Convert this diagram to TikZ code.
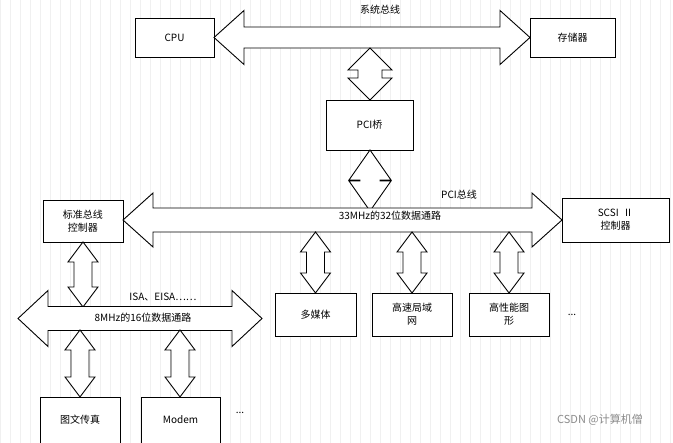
\documentclass[tikz,border=0pt]{standalone}
\usepackage{fontspec}
\setmainfont{Noto Sans CJK SC}
\begin{document}
\begin{tikzpicture}[x=1pt,y=-1pt,
  box/.style={draw,line width=0.9pt,fill=white,inner sep=1pt,align=center,font=\fontsize{10}{13}\selectfont},
  arr/.style={draw,line width=0.9pt,fill=white,line join=miter},
  lbl/.style={font=\fontsize{10}{12}\selectfont,inner sep=0pt}]
\newcommand\hdarrow[6]{% x1 x2 yc bodyhalf headhalf headlen
  \path[arr] (#1,#3) -- (#1+#6,#3-#5) -- (#1+#6,#3-#4) -- (#2-#6,#3-#4) -- (#2-#6,#3-#5) -- (#2,#3)
   -- (#2-#6,#3+#5) -- (#2-#6,#3+#4) -- (#1+#6,#3+#4) -- (#1+#6,#3+#5) -- cycle;}
\newcommand\vdarrow[6]{% y1 y2 xc bodyhalf headhalf headlen
  \path[arr] (#3,#1) -- (#3+#5,#1+#6) -- (#3+#4,#1+#6) -- (#3+#4,#2-#6) -- (#3+#5,#2-#6) -- (#3,#2)
   -- (#3-#5,#2-#6) -- (#3-#4,#2-#6) -- (#3-#4,#1+#6) -- (#3-#5,#1+#6) -- cycle;}
\useasboundingbox (0,0) rectangle (673,443);
\fill[white] (0,0) rectangle (673,443);
\draw[black!6,line width=0.4pt] (0,0) grid[step=10] (673,443);
% nodes
\node[box,minimum width=79,minimum height=39] (cpu) at (174.5,37.5) {CPU};
\node[box,minimum width=85,minimum height=39] (mem) at (572.5,37.5) {存储器};
\node[box,minimum width=87,minimum height=50] (pci) at (369.5,125) {PCI桥};
\node[box,minimum width=80,minimum height=42] (std) at (83,221) {标准总线\\控制器};
\node[box,minimum width=107,minimum height=44] (scsi) at (615.5,220) {SCSI\ \ Ⅱ\\控制器};
\node[box,minimum width=81,minimum height=43] (mm) at (315.5,314.5) {多媒体};
\node[box,minimum width=80,minimum height=43,text width=70] (lan) at (412,314.5) {高速局域\\网};
\node[box,minimum width=80,minimum height=43,text width=70] (gfx) at (509,314.5) {高性能图\\形};
\node[box,minimum width=80,minimum height=46] (fax) at (80,420) {图文传真};
\node[box,minimum width=79,minimum height=46] (modem) at (180.5,420) {Modem};
% system bus
\hdarrow{214}{530}{37.5}{10.5}{27}{30}
\node[lbl] (sysl) at (380,10) {系统总线};
\vdarrow{48}{100}{370}{12}{22}{22}
% pci bus
\vdarrow{150}{211}{370}{10}{21}{30}
\hdarrow{123}{562}{220}{12}{27}{30}
\node[lbl] (pcil) at (459,195) {PCI总线};
\node[lbl] (pcis) at (390,216) {33MHz的32位数据通路};
\vdarrow{232}{293}{315.5}{9}{15}{20}
\vdarrow{232}{293}{412}{9}{15}{20}
\vdarrow{232}{293}{509}{9}{15}{20}
\node[lbl] (d1) at (572,315) {...};
% isa bus
\vdarrow{242}{307}{83}{9}{15}{20}
\hdarrow{18}{262}{318.5}{12}{28}{30}
\node[lbl] (isal) at (163,297) {ISA、EISA……};
\node[lbl] (isas) at (143,318) {8MHz的16位数据通路};
\vdarrow{330}{397}{80}{9}{15}{20}
\vdarrow{330}{397}{180}{9}{15}{20}
\node[lbl] (d2) at (240,413) {...};
\node[lbl,text=black!45,font=\fontsize{11}{12}\selectfont] (wm) at (600,420) {CSDN @计算机僧};
\end{tikzpicture}
\end{document}
